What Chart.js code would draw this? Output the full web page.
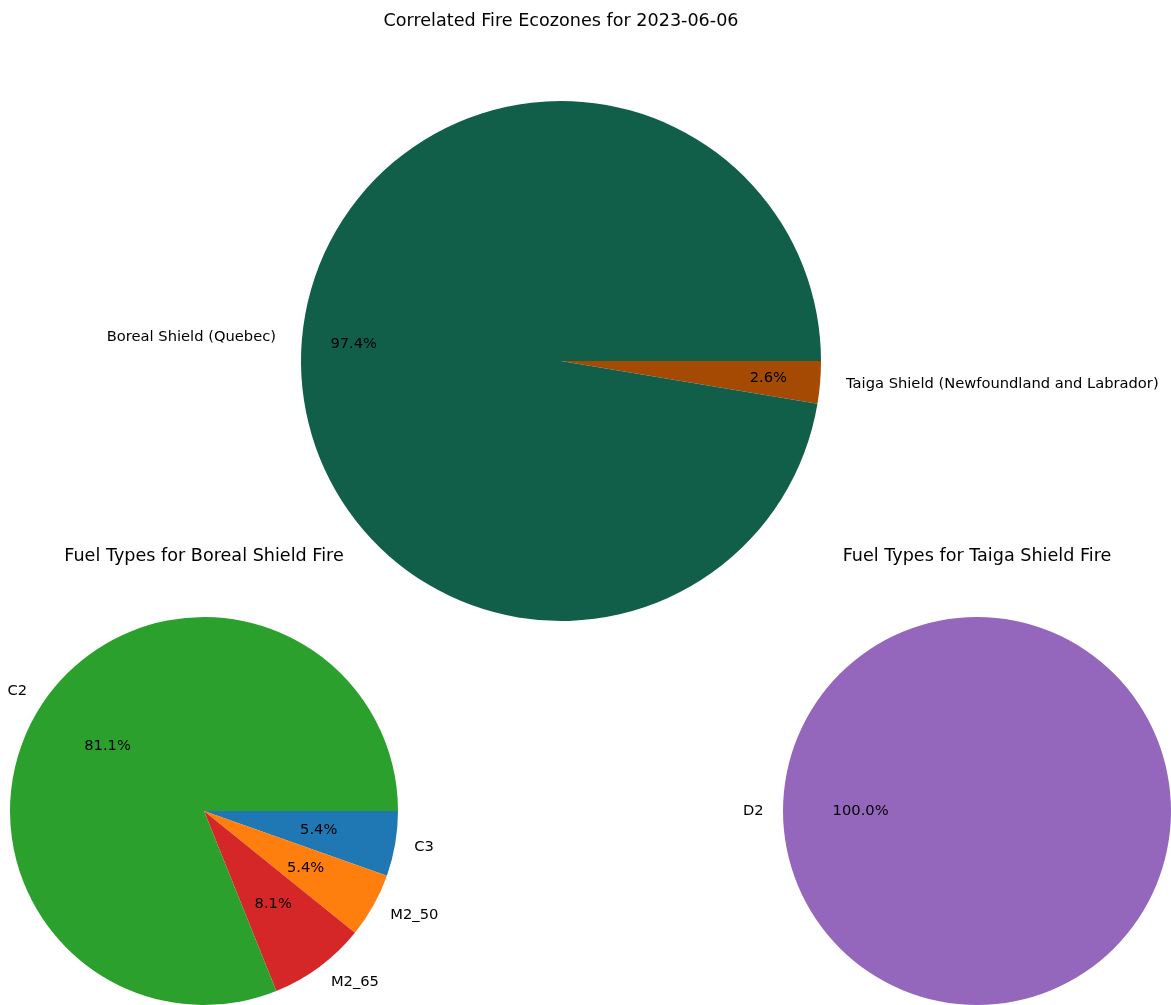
<!DOCTYPE html>
<html>
<head>
<meta charset="utf-8">
<title>Correlated Fire Ecozones</title>
<script src="https://cdn.jsdelivr.net/npm/chart.js@4"></script>
<style>
  body { margin: 0; background: #fff; }
  #wrap { position: relative; width: 1171px; height: 1005px; }
  #wrap canvas { position: absolute; left: 0; top: 0; }
</style>
</head>
<body>
<div id="wrap">
  <canvas id="ecozoneChart" width="1171" height="1005"></canvas>
  <canvas id="borealChart" width="1171" height="1005"></canvas>
  <canvas id="taigaChart" width="1171" height="1005"></canvas>
</div>
<script>
// fire counts per ecozone / fuel type (matplotlib order, counter-clockwise from 3 o'clock)
const ecozoneLabels = ["Boreal Shield (Quebec)", "Taiga Shield (Newfoundland and Labrador)"];
const ecozoneFires = [37, 1];
const ecozoneColors = ["#115f49", "#a54a03"];

const borealFuelLabels = ["C2", "M2_65", "M2_50", "C3"];
const borealFuelFires = [30, 3, 2, 2];
const borealFuelColors = ["#2ca02c", "#d62728", "#ff7f0e", "#1f77b4"];

const taigaFuelLabels = ["D2"];
const taigaFuelFires = [1];
const taigaFuelColors = ["#9467bd"];

const FONT = "DejaVu Sans";

// draws title, outside labels and autopct labels like matplotlib's pie()
const pieText = {
  id: "pieText",
  afterDatasetsDraw(chart, args, opts) {
    const ctx = chart.ctx;
    const meta = chart.getDatasetMeta(0);
    const values = chart.data.datasets[0].data;
    const total = values.reduce((a, b) => a + b, 0);
    ctx.save();
    ctx.fillStyle = "#000";
    ctx.textBaseline = "middle";

    meta.data.forEach((arc, i) => {
      const p = arc.getProps(["x", "y", "startAngle", "endAngle", "outerRadius"], true);
      const mid = (p.startAngle + p.endAngle) / 2;
      const cos = Math.cos(mid), sin = Math.sin(mid);

      ctx.font = "14.7px '" + FONT + "'";
      ctx.textAlign = cos > 0 ? "left" : "right";
      ctx.fillText(chart.data.labels[i], p.x + cos * p.outerRadius * 1.1, p.y + sin * p.outerRadius * 1.1);

      ctx.textAlign = "center";
      const pct = (values[i] / total * 100).toFixed(1) + "%";
      const d = opts.pctDistance;
      ctx.fillText(pct, p.x + cos * p.outerRadius * d, p.y + sin * p.outerRadius * d);
    });

    if (meta.data.length) {
      const c = meta.data[0].getProps(["x", "y", "outerRadius"], true);
      ctx.font = "17.6px '" + FONT + "'";
      ctx.textAlign = "center";
      ctx.fillText(opts.title, c.x, c.y - c.outerRadius - opts.titleGap);
    }
    ctx.restore();
  }
};

function makePie(id, labels, values, colors, padding, title, titleGap, pctDistance) {
  // Chart.js goes clockwise, matplotlib counter-clockwise: reverse and start at 3 o'clock
  const l = labels.slice().reverse();
  const v = values.slice().reverse();
  const c = colors.slice().reverse();
  return new Chart(document.getElementById(id), {
    type: "pie",
    data: {
      labels: l,
      datasets: [{
        data: v,
        backgroundColor: c,
        borderWidth: 0,
        hoverOffset: 0
      }]
    },
    options: {
      responsive: false,
      animation: false,
      rotation: 90,
      layout: { padding: padding },
      events: [],
      plugins: {
        legend: { display: false },
        tooltip: { enabled: false },
        pieText: { title: title, titleGap: titleGap, pctDistance: pctDistance }
      }
    },
    plugins: [pieText]
  });
}

makePie("ecozoneChart", ecozoneLabels, ecozoneFires, ecozoneColors,
  { left: 301, right: 350, top: 101, bottom: 384 },
  "Correlated Fire Ecozones for 2023-06-06", 80, 0.8);

makePie("borealChart", borealFuelLabels, borealFuelFires, borealFuelColors,
  { left: 10, right: 773, top: 617, bottom: 0 },
  "Fuel Types for Boreal Shield Fire", 61, 0.6);

makePie("taigaChart", taigaFuelLabels, taigaFuelFires, taigaFuelColors,
  { left: 783, right: 0, top: 617, bottom: 0 },
  "Fuel Types for Taiga Shield Fire", 61, 0.6);
</script>
</body>
</html>
